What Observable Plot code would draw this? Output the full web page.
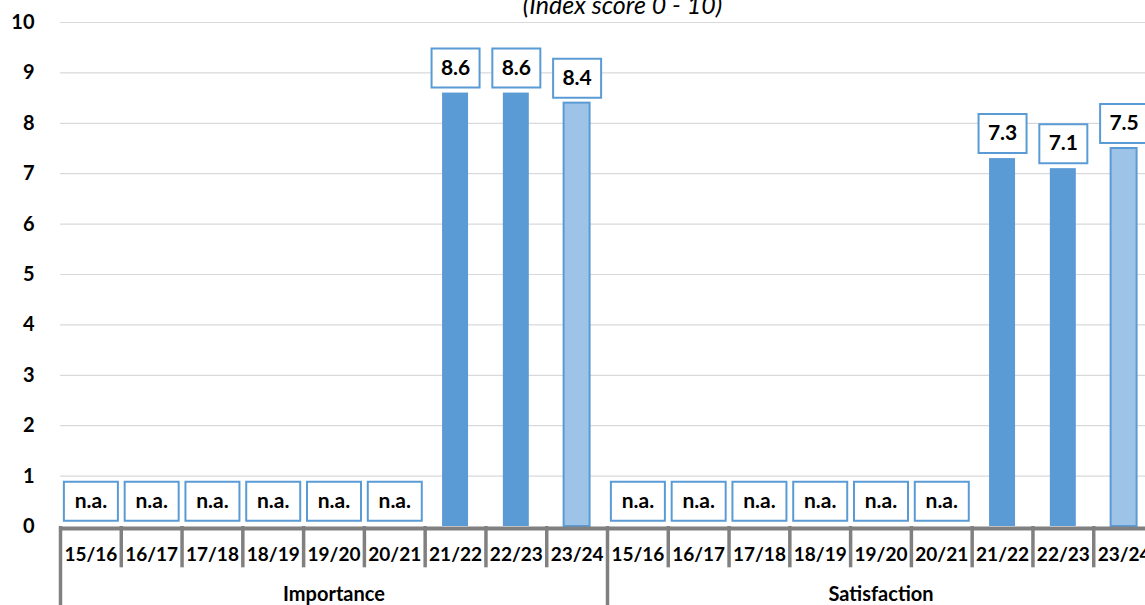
<!DOCTYPE html>
<html>
<head>
<meta charset="utf-8">
<script src="https://cdn.jsdelivr.net/npm/d3@7"></script>
<script src="https://cdn.jsdelivr.net/npm/@observablehq/plot@0.6"></script>
<style>
html, body { margin: 0; padding: 0; overflow: hidden; background: #fff; }
#chart { width: 1145px; height: 605px; overflow: hidden; }
#chart svg { display: block; max-width: none !important; width: 1160px !important; height: 610px !important; }
</style>
</head>
<body>
<div id="chart"></div>
<script>
const title = "(Index score 0 - 10)";
const groups = ["Importance", "Satisfaction"];
const seasons = ["15/16", "16/17", "17/18", "18/19", "19/20", "20/21", "21/22", "22/23", "23/24"];
const importance = [null, null, null, null, null, null, 8.6, 8.6, 8.4];
const satisfaction = [null, null, null, null, null, null, 7.3, 7.1, 7.5];
const yTicks = [0, 1, 2, 3, 4, 5, 6, 7, 8, 9, 10];
const naLabel = "n.a.";
const darkBlue = "#5B9BD5";
const lightBlue = "#9DC3E6";
const lastSeason = "23/24";

const seriesByGroup = {Importance: importance, Satisfaction: satisfaction};
const rows = groups.flatMap(g => seasons.map((s, i) => ({
  key: g + " " + s, group: g, season: s, value: seriesByGroup[g][i]
})));
const keys = rows.map(d => d.key);
const valued = rows.filter(d => d.value != null);
const missing = rows.filter(d => d.value == null);
const groupMid = groups.map(g => ({key: g + " " + seasons[4], group: g}));

const W = 1160, H = 610, ML = 60, MR = 6, MT = 22, MB = 84;
const step = (W - ML - MR) / keys.length;

const boxSym = (w, h) => ({draw(ctx) { ctx.rect(-w / 2, -h / 2, w, h); }});

const chart = Plot.plot({
  width: W, height: H,
  marginLeft: ML, marginRight: MR, marginTop: MT, marginBottom: MB,
  style: {fontFamily: "Lato, 'Open Sans', sans-serif", background: "#fff", maxWidth: "none", overflow: "hidden"},
  x: {type: "band", domain: keys, padding: 0, round: false, axis: null},
  y: {domain: [0, 10], axis: null},
  color: {type: "identity"},
  marks: [
    Plot.gridY(yTicks.filter(t => t > 0), {stroke: "#d9d9d9", strokeOpacity: 1, strokeWidth: 1.2}),
    Plot.axisY(yTicks, {label: null, tickSize: 0, tickPadding: 26, fontSize: 20, fontWeight: "bold", fill: "#000", tickFormat: d => String(d)}),
    Plot.barY(valued, {
      x: "key", y: "value",
      insetLeft: 17.4, insetRight: 17.4,
      fill: d => d.season === lastSeason ? lightBlue : darkBlue,
      stroke: d => d.season === lastSeason ? darkBlue : "none",
      strokeWidth: 2
    }),
    Plot.ruleY([0], {stroke: "#808080", strokeWidth: 4, dy: 2}),
    Plot.ruleX(rows, {
      x: "key", y1: 0, y2: d => d.season === seasons[0] ? -1.6 : -0.82,
      dx: -step / 2, stroke: "#808080", strokeWidth: 3.5
    }),
    Plot.text(rows, {x: "key", y: 0, text: "season", dy: 28, fontSize: 19, fontWeight: "bold", fill: "#000"}),
    Plot.text(groupMid, {x: "key", y: 0, text: "group", dy: 68, fontSize: 20, fontWeight: "bold", fill: "#000"}),
    Plot.dot(valued, {x: "key", y: "value", dy: -25, symbol: boxSym(48, 39), stroke: darkBlue, strokeWidth: 2, fill: "#fff"}),
    Plot.text(valued, {x: "key", y: "value", dy: -25, text: d => d.value.toFixed(1), fontSize: 21, fontWeight: "bold", fill: "#000"}),
    Plot.dot(missing, {x: "key", y: 0.5, symbol: boxSym(54, 39), stroke: darkBlue, strokeWidth: 2, fill: "#fff"}),
    Plot.text(missing, {x: "key", y: 0.5, text: () => naLabel, fontSize: 21, fontWeight: "bold", fill: "#000"}),
    Plot.text([title], {frameAnchor: "top", lineAnchor: "middle", dx: 15, dy: -17, fontSize: 25, fontStyle: "italic", fill: "#000"})
  ]
});
document.getElementById("chart").appendChild(chart);
</script>
</body>
</html>
